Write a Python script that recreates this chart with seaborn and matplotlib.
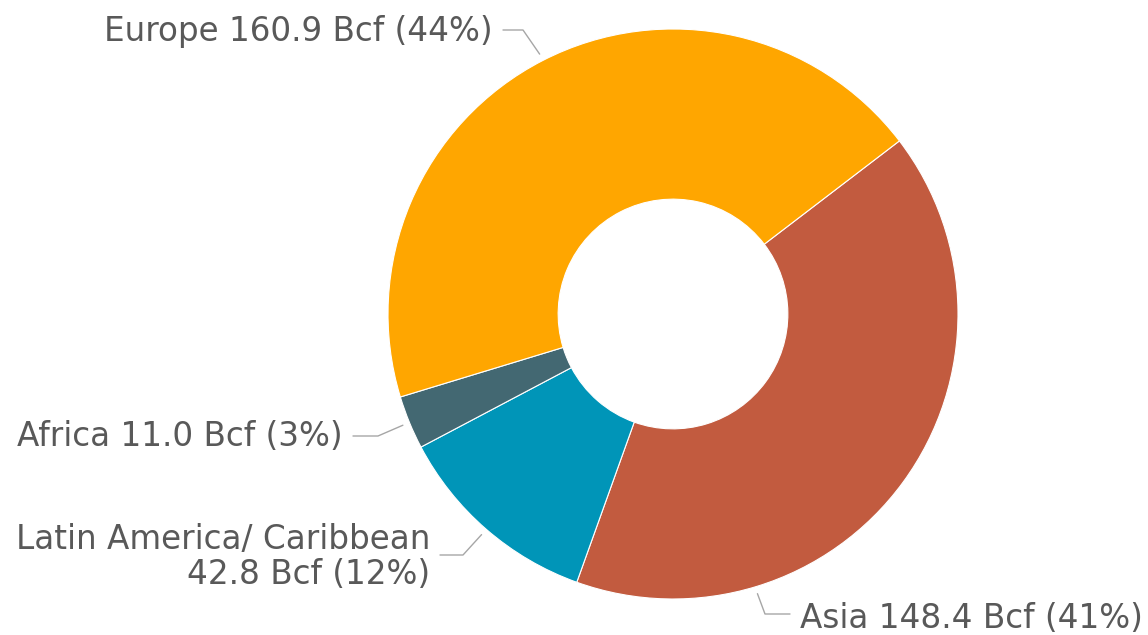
import numpy as np
import matplotlib
matplotlib.use("Agg")
import matplotlib.pyplot as plt
import seaborn as sns

# data (clockwise from the top-right edge of Asia)
regions = ["Asia", "Latin America/ Caribbean", "Africa", "Europe"]
volumes = [148.4, 42.8, 11.0, 160.9]
pct_labels = ["41%", "12%", "3%", "44%"]
colors = ["#C25B3F", "#0095B8", "#436872", "#FFA600"]

sns.set_theme(style="white")
plt.rcParams["font.family"] = ["DejaVu Sans"]

W, H = 1148, 635
CX, CY, R = 673, 314, 285   # pie centre / radius in pixels


def px(x, y):
    # pixel -> data coords (radius 1 pie)
    return ((x - CX) / R, (CY - y) / R)


fig = plt.figure(figsize=(W / 100, H / 100), dpi=100)
ax = fig.add_axes([0, 0, 1, 1])

wedges, _ = ax.pie(volumes, colors=colors, startangle=37.4, counterclock=False,
                   radius=1.0, wedgeprops=dict(width=0.597, edgecolor="white", linewidth=0.8))
ax.set_xlim(px(0, 0)[0], px(W, 0)[0])
ax.set_ylim(px(0, H)[1], px(0, 0)[1])
ax.set_aspect("auto")
ax.axis("off")

txt_color = "#595959"
line_color = "#A6A6A6"
fs = 23.5

# label layout: (anchor angle override, elbow px, line end px, text px, ha)
layout = {
    "Europe": (None, (523, 30), (503, 30), (493, 31), "right"),
    "Africa": (None, (378, 436), (353, 436), (343, 437), "right"),
    "Latin America/ Caribbean": (None, (463, 555), (440, 555), (430, 557), "right"),
    "Asia": (-73.2, (765, 614), (790, 614), (800, 618), "left"),
}

for w, name, vol, pct in zip(wedges, regions, volumes, pct_labels):
    ang, elbow, lend, tpos, ha = layout[name]
    if ang is None:
        ang = (w.theta1 + w.theta2) / 2
    a = np.deg2rad(ang)
    r0 = 1.025
    start = (r0 * np.cos(a), r0 * np.sin(a))
    e = px(*elbow)
    l = px(*lend)
    ax.plot([start[0], e[0], l[0]], [start[1], e[1], l[1]], color=line_color, lw=1.0)
    if name == "Latin America/ Caribbean":
        label = "Latin America/ Caribbean\n%.1f Bcf (%s)" % (vol, pct)
    else:
        label = "%s %.1f Bcf (%s)" % (name, vol, pct)
    t = px(*tpos)
    ax.text(t[0], t[1], label, ha=ha, va="center", fontsize=fs, color=txt_color,
            multialignment="right", linespacing=1.05)

fig.savefig("out.png", dpi=100)
